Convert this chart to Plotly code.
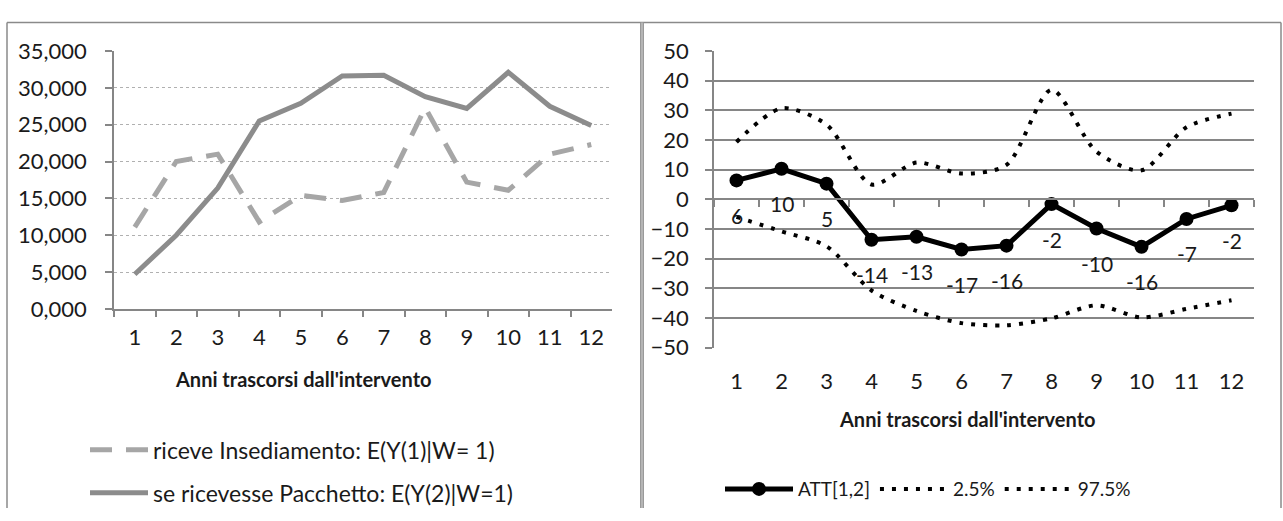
import plotly.graph_objects as go

# ---- data -------------------------------------------------------------
years = [str(i) for i in range(1, 13)]
year_num = list(range(1, 13))

# potential outcomes (left panel)
insediamento = [11100, 20000, 21000, 11800, 15400, 14700, 15800, 27300, 17200, 16100, 21000, 22300]
pacchetto = [4700, 10000, 16400, 25500, 27900, 31600, 31700, 28800, 27200, 32100, 27500, 24900]

# ATT with 95% bounds (right panel)
att = [6.4, 10.3, 5.3, -13.6, -12.6, -16.9, -15.6, -1.6, -9.8, -16.0, -6.6, -2.0]
q025 = [-5.9, -10.8, -15.8, -30.7, -37.6, -41.7, -42.4, -40.1, -35.7, -39.8, -36.9, -34.0]
q975 = [19.3, 30.7, 25.2, 5.0, 12.4, 8.7, 11.6, 36.9, 16.1, 9.8, 24.3, 28.9]

left_tickvals = [0, 5000, 10000, 15000, 20000, 25000, 30000, 35000]
left_ticktext = ["0,000", "5,000", "10,000", "15,000", "20,000", "25,000", "30,000", "35,000"]
right_tickvals = [-50, -40, -30, -20, -10, 0, 10, 20, 30, 40, 50]

x_title = "Anni trascorsi dall'intervento"
names_left = ["riceve Insediamento: E(Y(1)|W= 1)", "se ricevesse Pacchetto: E(Y(2)|W=1)"]
names_right = ["ATT[1,2]", "2.5%", "97.5%"]

# ---- geometry (pixels) --------------------------------------------------
W, H = 1283, 521
FONT = "Lato"
TXT = "#1a1a1a"
AXIS = "#868686"


def px(x):
    return x / W


def py(y):
    return 1 - y / H


L_X0, L_X1, L_Y0, L_Y1 = 114, 612, 39, 311
R_X0, R_X1, R_Y0, R_Y1 = 714, 1254, 39, 352

fig = go.Figure()

# left panel
fig.add_trace(go.Scatter(
    x=years, y=insediamento, name=names_left[0], mode="lines",
    line=dict(color="#a6a6a6", width=5, dash="22px,14px"),
    xaxis="x", yaxis="y", legend="legend", legendgroup="a",
))
fig.add_trace(go.Scatter(
    x=years, y=pacchetto, name=names_left[1], mode="lines",
    line=dict(color="#8c8c8c", width=5),
    xaxis="x", yaxis="y", legend="legend", legendgroup="b",
))

# right panel
fig.add_trace(go.Scatter(
    x=year_num, y=att, name=names_right[0], mode="lines+markers",
    line=dict(color="#000000", width=5),
    marker=dict(size=14, color="#000000"),
    xaxis="x2", yaxis="y2", legend="legend2",
))
fig.add_trace(go.Scatter(
    x=year_num, y=q025, name=names_right[1], mode="lines",
    line=dict(color="#000000", width=4, dash="4px,8px", shape="spline", smoothing=0.8),
    xaxis="x3", yaxis="y2", legend="legend2",
))
fig.add_trace(go.Scatter(
    x=year_num, y=q975, name=names_right[2], mode="lines",
    line=dict(color="#000000", width=4, dash="4px,8px", shape="spline", smoothing=0.8),
    xaxis="x2", yaxis="y2", legend="legend2",
))

# value labels under the ATT markers
for xv, yv in zip(year_num, att):
    fig.add_annotation(
        x=xv, y=yv, xref="x2", yref="y2", text=f"{yv:.0f}", showarrow=False,
        yshift=-35, font=dict(family=FONT, size=21, color=TXT),
    )

tick_font = dict(family=FONT, size=22, color=TXT)

fig.update_layout(
    width=W, height=H,
    margin=dict(l=0, r=0, t=0, b=0),
    paper_bgcolor="white", plot_bgcolor="white",
    font=dict(family=FONT, size=19, color=TXT),
    xaxis=dict(
        domain=[px(L_X0), px(L_X1)], anchor="y", type="category",
        range=[-0.5, 11.5], tickson="boundaries", ticks="outside", ticklen=6,
        tickcolor=AXIS, tickwidth=1.5, showline=True, linecolor=AXIS, linewidth=1.5,
        showgrid=False, tickfont=tick_font, ticklabelstandoff=8,
    ),
    yaxis=dict(
        domain=[py(L_Y1), py(L_Y0)], anchor="x", range=[0, 35000],
        tickvals=left_tickvals, ticktext=left_ticktext,
        ticks="outside", ticklen=7, tickcolor=AXIS, tickwidth=1.5,
        showline=True, linecolor=AXIS, linewidth=1.5,
        showgrid=True, gridcolor="#b0b0b0", gridwidth=1, griddash="dot",
        zeroline=False, tickfont=tick_font, ticklabelstandoff=14,
    ),
    xaxis2=dict(
        domain=[px(R_X0), px(R_X1)], anchor="y2", range=[0.5, 12.5],
        tickvals=year_num, ticktext=years, ticks="", showline=False,
        showgrid=False, zeroline=False, tickfont=tick_font, ticklabelstandoff=18,
    ),
    xaxis3=dict(
        overlaying="x2", anchor="free", position=(py(R_Y1) + py(R_Y0)) / 2,
        range=[0.5, 12.5], tickvals=[v + 0.5 for v in [0] + year_num],
        ticks="outside", ticklen=7, tickcolor=AXIS, tickwidth=1.5,
        showticklabels=False, showline=True, linecolor=AXIS, linewidth=1.5,
        showgrid=False, zeroline=False,
    ),
    yaxis2=dict(
        domain=[py(R_Y1), py(R_Y0)], anchor="x2", range=[-50, 50],
        tickvals=right_tickvals, ticks="outside", ticklen=7, tickcolor=AXIS,
        tickwidth=1.5, showline=True, linecolor=AXIS, linewidth=1.5,
        showgrid=True, gridcolor=AXIS, gridwidth=1.5, zeroline=False,
        tickfont=tick_font, ticklabelstandoff=12,
    ),
    legend=dict(
        x=px(85), y=py(437), xanchor="left", yanchor="top",
        orientation="v", font=dict(family=FONT, size=23, color=TXT),
        tracegroupgap=10, itemwidth=58, bgcolor="rgba(0,0,0,0)",
    ),
    legend2=dict(
        x=px(720), y=py(481), xanchor="left", yanchor="top",
        orientation="h", font=dict(family=FONT, size=19, color=TXT),
        itemwidth=68, bgcolor="rgba(0,0,0,0)",
    ),
)

# axis titles
for cx, cy in [(303, 385), (967, 427)]:
    fig.add_annotation(
        x=px(cx), y=py(cy), xref="paper", yref="paper", text=f"<b>{x_title}</b>",
        showarrow=False, xanchor="center", yanchor="middle",
        font=dict(family=FONT, size=20, color=TXT),
    )

# panel frames
frame = dict(type="line", xref="paper", yref="paper", line=dict(color="#8a8a8a", width=1.5))
fig.add_shape(**frame, x0=px(7), x1=px(7), y0=0, y1=py(9))
fig.add_shape(**frame, x0=px(7), x1=px(1281), y0=py(9), y1=py(9))
fig.add_shape(**frame, x0=px(1281), x1=px(1281), y0=0, y1=py(9))
fig.add_shape(type="line", xref="paper", yref="paper", x0=px(642), x1=px(642), y0=0, y1=py(9),
              line=dict(color="#9a9a9a", width=4))
fig.add_shape(type="line", xref="paper", yref="paper", x0=px(642), x1=px(642), y0=0, y1=py(9),
              line=dict(color="#d0d0d0", width=1))

fig.write_html("out.html")
